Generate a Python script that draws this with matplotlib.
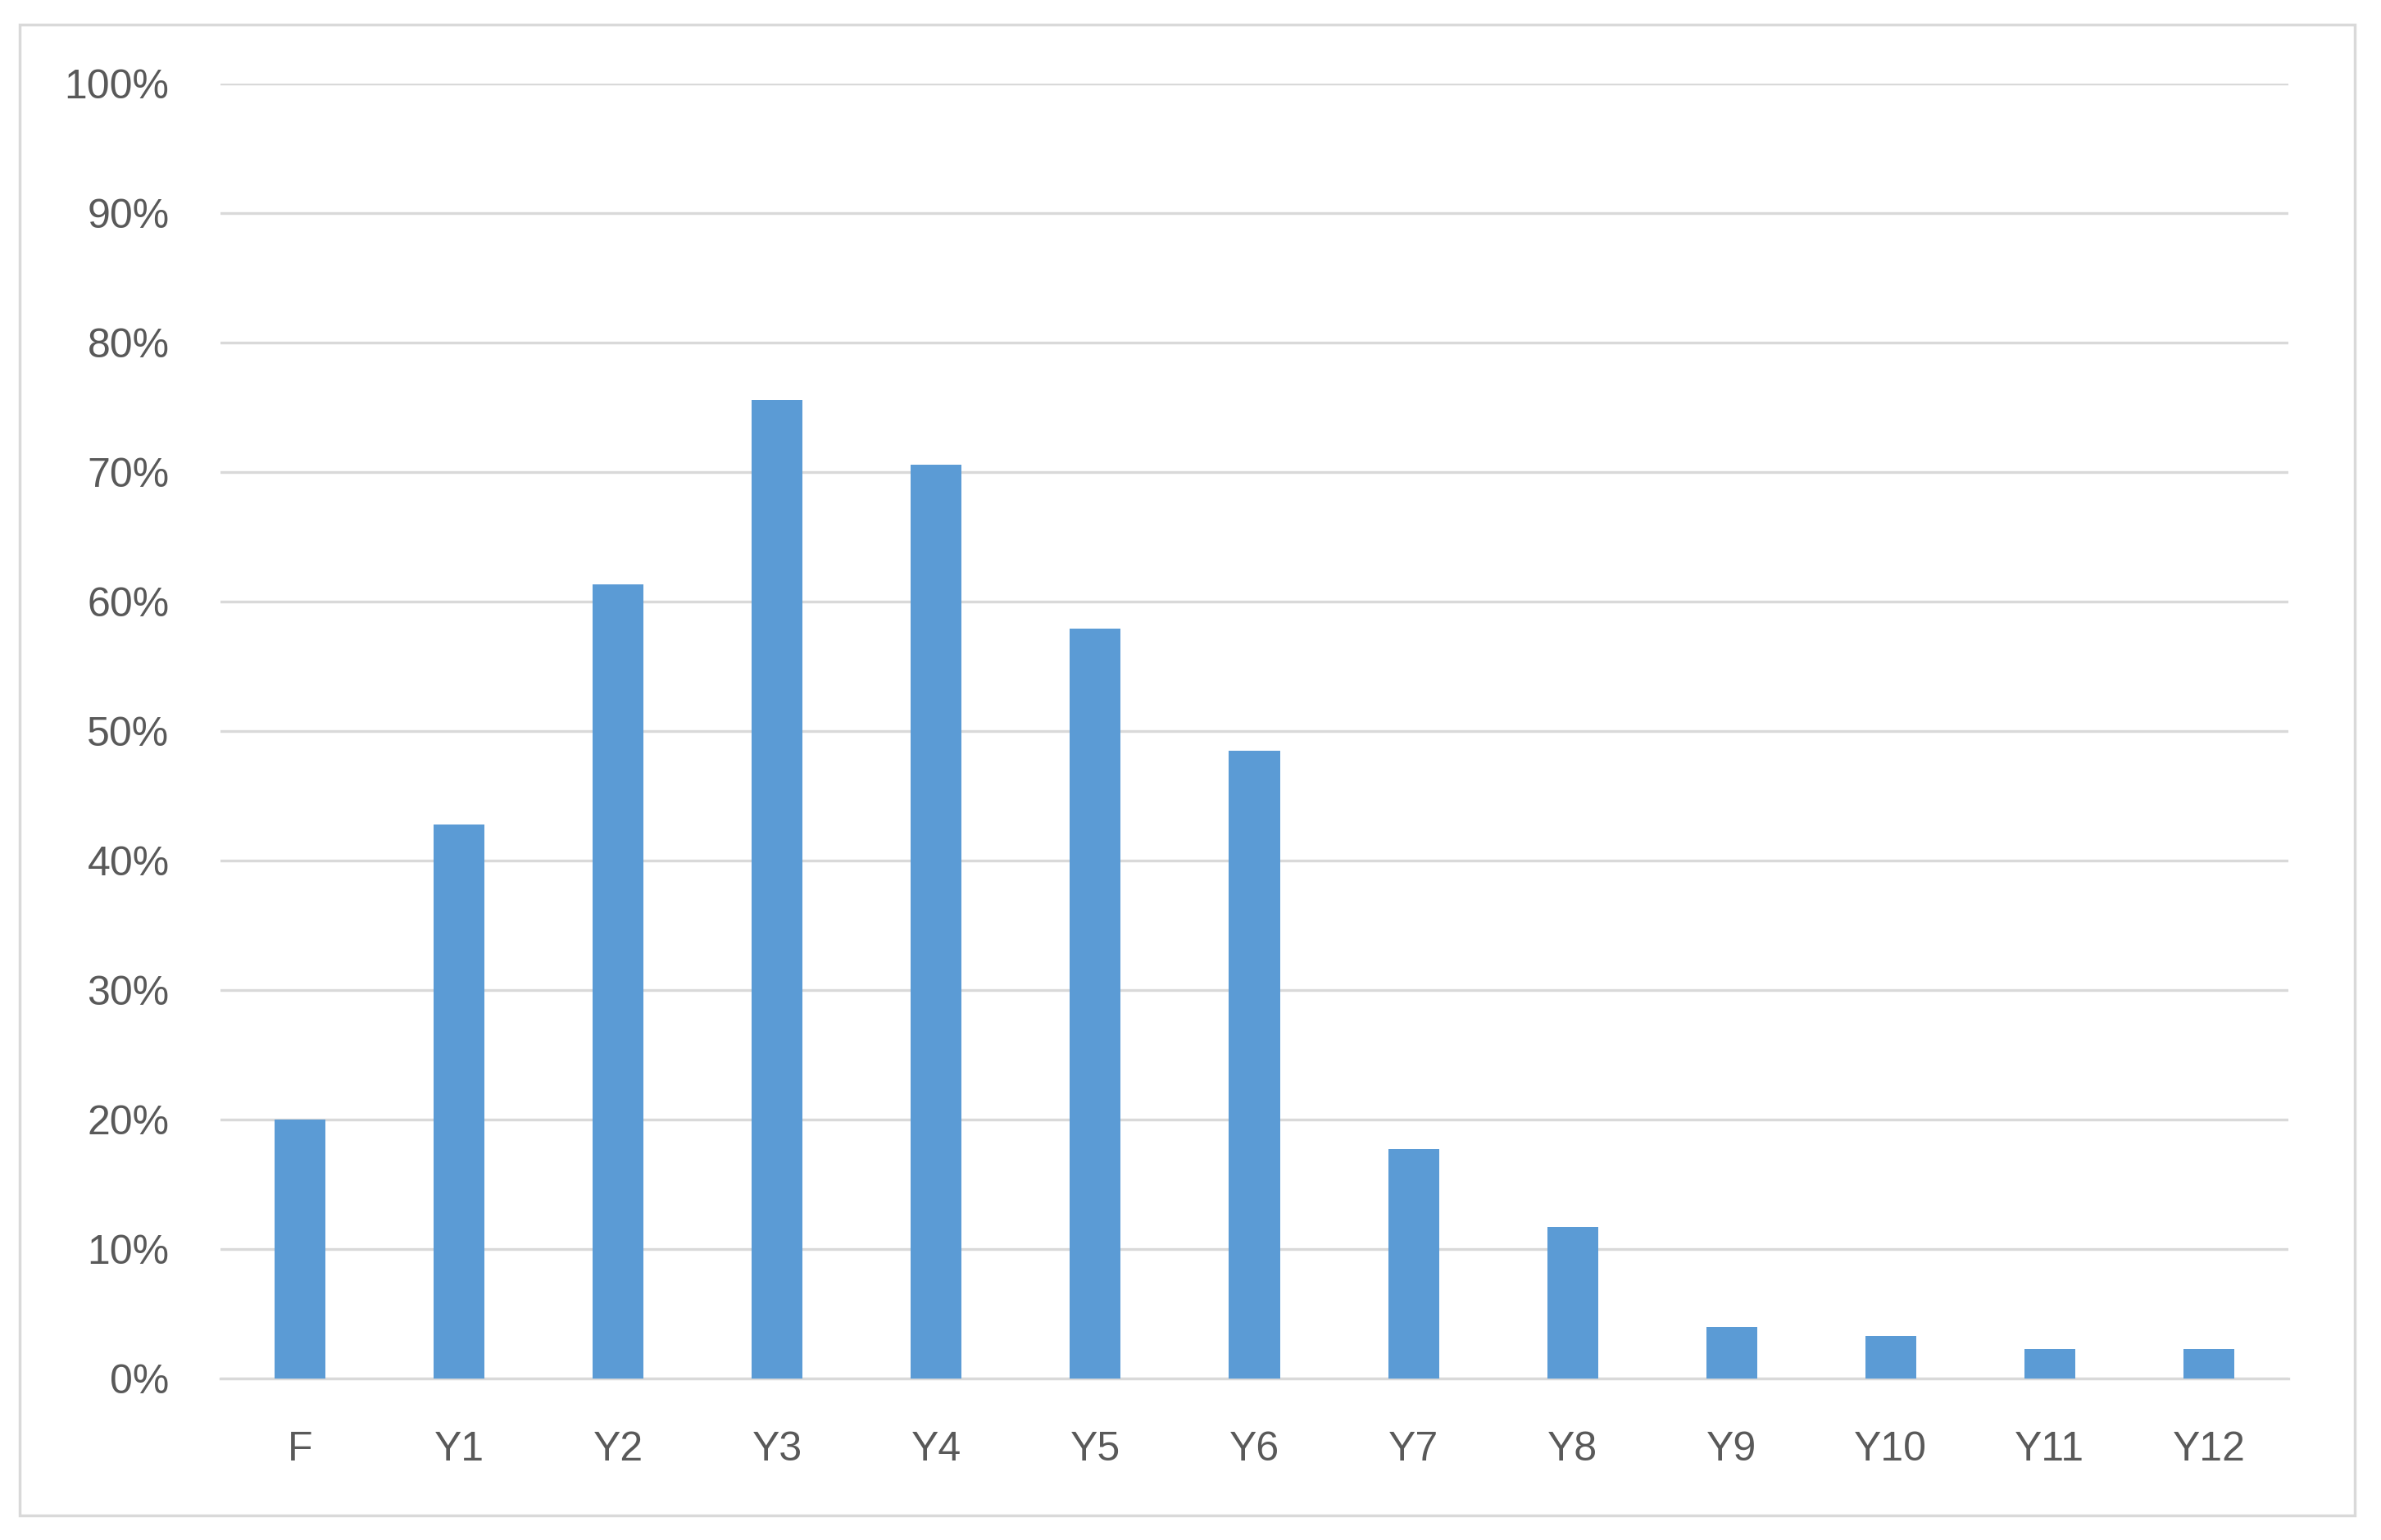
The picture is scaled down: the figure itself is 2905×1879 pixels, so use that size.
import matplotlib
matplotlib.use('Agg')
import matplotlib.pyplot as plt
from matplotlib.patches import Rectangle
from matplotlib.ticker import PercentFormatter

categories = ['F', 'Y1', 'Y2', 'Y3', 'Y4', 'Y5', 'Y6', 'Y7', 'Y8', 'Y9', 'Y10', 'Y11', 'Y12']
share = [20.0, 42.8, 61.3, 75.6, 70.6, 57.9, 48.5, 17.7, 11.7, 4.0, 3.3, 2.3, 2.3]
yticks = [0, 10, 20, 30, 40, 50, 60, 70, 80, 90, 100]

plt.rcParams['font.family'] = ['Liberation Sans', 'DejaVu Sans']

fig = plt.figure(figsize=(29.05, 18.79), dpi=100)
fig.patch.set_facecolor('white')

# light outer chart border
fig.patches.append(Rectangle((0.0083, 0.016), 0.9807, 0.968, transform=fig.transFigure,
                             fill=False, edgecolor='#d9d9d9', linewidth=2.5))

ax = fig.add_axes([0.0926, 0.1049, 0.8685, 0.8408])
ax.bar(range(len(categories)), share, width=0.32, color='#5b9bd5', zorder=3)

ax.set_xlim(-0.5, len(categories) - 0.5)
ax.set_ylim(0, 100)
ax.set_yticks(yticks)
ax.yaxis.set_major_formatter(PercentFormatter(decimals=0))
ax.set_xticks(range(len(categories)))
ax.set_xticklabels(categories)

ax.grid(axis='y', color='#d9d9d9', linewidth=2.4, zorder=0)
ax.set_axisbelow(True)
for s in ['top', 'right', 'left']:
    ax.spines[s].set_visible(False)
ax.spines['bottom'].set_color('#d9d9d9')
ax.spines['bottom'].set_linewidth(2.4)

ax.tick_params(axis='both', length=0, labelsize=36, labelcolor='#595959')
ax.tick_params(axis='y', pad=45)
ax.tick_params(axis='x', pad=46)

fig.savefig('out.png', dpi=100, facecolor='white')
